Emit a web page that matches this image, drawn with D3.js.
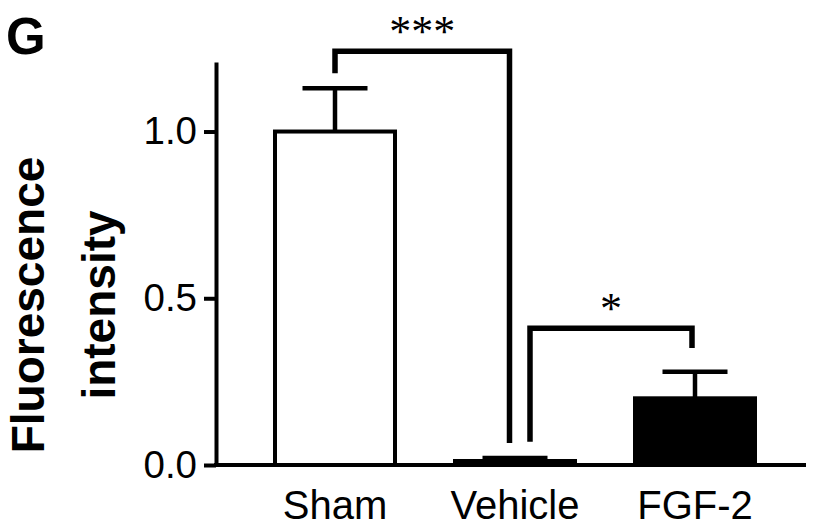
<!DOCTYPE html>
<html><head><meta charset="utf-8">
<script src="https://cdn.jsdelivr.net/npm/d3@7"></script>
<style>body{margin:0;background:#fff}svg{display:block}</style>
</head><body><svg id="c" width="820" height="530"></svg>
<script>
// ---- data ----
const categories = ["Sham", "Vehicle", "FGF-2"];
const means = [1.0, 0.012, 0.2];
const sems = [0.13, 0.009, 0.08];
const barFills = ["#ffffff", "#ffffff", "#000000"];
const yTicks = [0, 0.5, 1.0];
const yTickLabels = ["0.0", "0.5", "1.0"];
const yTitleLines = ["Fluorescence", "intensity"];
const panelLabel = "G";
// significance brackets: category indices and heights (data units)
const compFrom = [0, 1];
const compTo = [1, 2];
const compFromY = [1.175, 0.07];
const compTopY = [1.241, 0.41];
const compToY = [0.066, 0.351];
const compLabels = ["***", "*"];

// ---- drawing ----
const svg = d3.select("#c");
svg.append("rect").attr("width", 820).attr("height", 530).attr("fill", "#fff");

const axisX = 216, baseY = 465;
const y = d3.scaleLinear().domain([0, 1.2085]).range([baseY, 62]);
const x = d3.scaleBand().domain(categories).range([275, 755]).paddingInner(1/3).paddingOuter(0);
const cx = c => x(c) + x.bandwidth() / 2;

// bars
svg.append("g").selectAll("rect").data(categories).join("rect")
  .attr("x", d => x(d)).attr("width", x.bandwidth())
  .attr("y", (d, i) => y(means[i])).attr("height", (d, i) => y(0) - y(means[i]))
  .attr("fill", (d, i) => barFills[i]).attr("stroke", "#000").attr("stroke-width", 4);

// error bars
const eb = svg.append("g").attr("stroke", "#000").attr("stroke-width", 4.5);
categories.forEach((c, i) => {
  eb.append("line").attr("x1", cx(c)).attr("x2", cx(c))
    .attr("y1", y(means[i])).attr("y2", y(means[i] + sems[i]));
  eb.append("line").attr("x1", cx(c) - 32.5).attr("x2", cx(c) + 32.5)
    .attr("y1", y(means[i] + sems[i])).attr("y2", y(means[i] + sems[i]));
});

// x axis line
svg.append("line").attr("x1", axisX - 2).attr("x2", 806).attr("y1", baseY).attr("y2", baseY)
  .attr("stroke", "#000").attr("stroke-width", 4);

// y axis
const yAxis = d3.axisLeft(y).tickValues(yTicks).tickFormat((d, i) => yTickLabels[i])
  .tickSize(12).tickSizeOuter(0).tickPadding(7);
const gy = svg.append("g").attr("transform", `translate(${axisX},0)`).call(yAxis);
gy.select(".domain").attr("stroke-width", 4);
gy.selectAll(".tick line").attr("stroke-width", 4);
gy.selectAll(".tick text").attr("font-family", "Liberation Sans, Arial, sans-serif")
  .attr("font-size", 38.5).attr("fill", "#000");

// x labels
const xAxis = d3.axisBottom(x).tickSize(0).tickPadding(26);
const gx = svg.append("g").attr("transform", `translate(0,${baseY})`).call(xAxis);
gx.select(".domain").remove();
gx.selectAll(".tick text").attr("font-family", "Liberation Sans, Arial, sans-serif")
  .attr("font-size", 40).attr("fill", "#000");

// y title
const yt = svg.append("text").attr("transform", "translate(44,305) rotate(-90)")
  .attr("text-anchor", "middle").attr("font-family", "Liberation Sans, Arial, sans-serif")
  .attr("font-weight", "bold").attr("font-size", 46).attr("fill", "#000");
yt.append("tspan").attr("x", 0).attr("y", 0).text(yTitleLines[0]);
yt.append("tspan").attr("x", 0).attr("y", 71).text(yTitleLines[1]);

// panel label
svg.append("text").attr("x", 6).attr("y", 54).attr("font-family", "Liberation Sans, Arial, sans-serif")
  .attr("font-weight", "bold").attr("font-size", 51).attr("fill", "#000").text(panelLabel);

// significance brackets
const legDx = [[0, -5.5], [15, -3]];
const br = svg.append("g");
compLabels.forEach((lab, k) => {
  const x1 = cx(categories[compFrom[k]]) + legDx[k][0];
  const x2 = cx(categories[compTo[k]]) + legDx[k][1];
  const p = d3.path();
  p.moveTo(x1, y(compFromY[k]));
  p.lineTo(x1, y(compTopY[k]));
  p.lineTo(x2, y(compTopY[k]));
  p.lineTo(x2, y(compToY[k]));
  br.append("path").attr("d", p.toString()).attr("fill", "none").attr("stroke", "#000")
    .attr("stroke-width", 5.5).attr("stroke-linejoin", "miter").attr("stroke-linecap", "butt");
  br.append("text").attr("x", (x1 + x2) / 2).attr("y", y(compTopY[k]) - 5)
    .attr("text-anchor", "middle").attr("font-family", "Liberation Serif, Times New Roman, serif")
    .attr("font-size", 44).attr("fill", "#000").text(lab);
});
</script></body></html>
